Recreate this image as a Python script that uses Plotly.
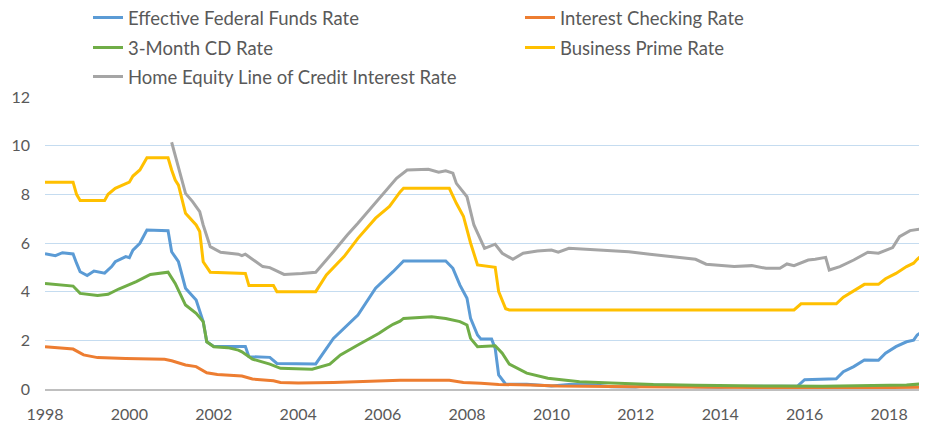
import plotly.graph_objects as go

# Effective Federal Funds Rate
fed_dates = ["1998-01", "1998-04", "1998-06", "1998-09", "1998-10", "1998-11", "1999-01", "1999-03",
             "1999-06", "1999-08", "1999-09", "1999-12", "2000-01", "2000-02", "2000-04", "2000-06",
             "2000-12", "2001-01", "2001-03", "2001-05", "2001-08", "2001-10", "2001-11", "2002-01",
             "2002-10", "2002-11", "2003-05", "2003-07", "2004-06", "2004-11", "2005-06", "2005-11",
             "2006-04", "2006-07", "2007-07", "2007-09", "2007-11", "2008-01", "2008-02", "2008-04",
             "2008-05", "2008-08", "2008-09", "2008-10", "2008-12", "2009-06", "2010-01", "2010-06",
             "2011-01", "2011-06", "2012-01", "2012-06", "2013-01", "2013-06", "2014-01", "2014-06",
             "2015-01", "2015-06", "2015-11", "2016-01", "2016-10", "2016-12", "2017-03", "2017-06",
             "2017-10", "2017-12", "2018-03", "2018-06", "2018-08", "2018-09", "2018-11", "2019-01"]
fed_rate = [5.56, 5.48, 5.6, 5.55, 5.17, 4.82, 4.66, 4.85,
            4.76, 5.03, 5.23, 5.44, 5.4, 5.71, 5.99, 6.53,
            6.5, 5.64, 5.23, 4.14, 3.66, 2.77, 1.94, 1.75,
            1.75, 1.33, 1.3, 1.05, 1.03, 2.08, 3.04, 4.14,
            4.82, 5.26, 5.26, 4.96, 4.27, 3.73, 2.9, 2.22,
            2.05, 2.05, 1.67, 0.58, 0.2, 0.2, 0.12, 0.18,
            0.17, 0.09, 0.08, 0.16, 0.14, 0.09, 0.07, 0.1,
            0.11, 0.13, 0.12, 0.38, 0.42, 0.71, 0.92, 1.19,
            1.18, 1.47, 1.74, 1.94, 2.01, 2.22, 2.42, 2.45]

# Interest Checking Rate
chk_dates = ["1998-01", "1998-09", "1998-12", "1999-04", "1999-12", "2000-11", "2001-01", "2001-05",
             "2001-08", "2001-11", "2002-02", "2002-08", "2002-09", "2002-12", "2003-06", "2003-08",
             "2004-01", "2004-11", "2005-11", "2006-06", "2007-08", "2007-12", "2008-05", "2008-10",
             "2009-07", "2010-03", "2012-01", "2014-01", "2016-01", "2018-01", "2019-01"]
chk_rate = [1.74, 1.64, 1.4, 1.29, 1.25, 1.22, 1.16, 0.99,
            0.92, 0.67, 0.6, 0.55, 0.53, 0.41, 0.34, 0.27,
            0.25, 0.27, 0.34, 0.36, 0.36, 0.27, 0.24, 0.19,
            0.16, 0.12, 0.09, 0.06, 0.05, 0.06, 0.08]

# 3-Month CD Rate
cd_dates = ["1998-01", "1998-09", "1998-11", "1999-04", "1999-07", "1999-10", "2000-03", "2000-07",
            "2000-12", "2001-02", "2001-05", "2001-08", "2001-10", "2001-11", "2002-01", "2002-05",
            "2002-08", "2002-09", "2002-12", "2003-05", "2003-08", "2004-05", "2004-10", "2005-01",
            "2005-06", "2005-10", "2005-12", "2006-02", "2006-04", "2006-06", "2006-07", "2007-03",
            "2007-07", "2007-11", "2008-01", "2008-02", "2008-04", "2008-09", "2008-11", "2009-01",
            "2009-06", "2009-12", "2010-09", "2011-06", "2012-06", "2013-06", "2014-06", "2015-06",
            "2016-06", "2017-06", "2018-06", "2019-01"]
cd_rate = [4.34, 4.23, 3.93, 3.84, 3.89, 4.11, 4.41, 4.71,
           4.8, 4.34, 3.45, 3.11, 2.77, 1.94, 1.74, 1.7,
           1.6, 1.53, 1.23, 1.02, 0.85, 0.81, 1.02, 1.4,
           1.81, 2.11, 2.29, 2.49, 2.66, 2.79, 2.9, 2.97,
           2.9, 2.77, 2.63, 2.08, 1.74, 1.78, 1.47, 1.02,
           0.65, 0.44, 0.3, 0.25, 0.18, 0.15, 0.12, 0.12,
           0.11, 0.12, 0.16, 0.24]

# Business Prime Rate
prime_dates = ["1998-01", "1998-09", "1998-10", "1998-11", "1999-06", "1999-07", "1999-09", "1999-11",
               "2000-01", "2000-02", "2000-04", "2000-06", "2000-12", "2001-01", "2001-02", "2001-03",
               "2001-05", "2001-08", "2001-09", "2001-10", "2001-12", "2002-10", "2002-11", "2003-06",
               "2003-07", "2004-06", "2004-09", "2005-02", "2005-06", "2005-11", "2006-03", "2006-06",
               "2006-07", "2007-08", "2007-10", "2007-12", "2008-02", "2008-04", "2008-09", "2008-10",
               "2008-12", "2009-01", "2015-10", "2015-12", "2016-10", "2016-12", "2017-03", "2017-06",
               "2017-10", "2017-12", "2018-03", "2018-06", "2018-08", "2018-09", "2018-11", "2019-01"]
prime_rate = [8.5, 8.5, 8.0, 7.75, 7.75, 8.0, 8.25, 8.37,
              8.5, 8.75, 9.0, 9.5, 9.5, 9.0, 8.59, 8.38,
              7.22, 6.74, 6.47, 5.23, 4.8, 4.75, 4.25, 4.25,
              4.0, 4.0, 4.69, 5.44, 6.19, 7.02, 7.5, 8.1,
              8.25, 8.25, 7.63, 7.1, 6.0, 5.1, 5.0, 4.0,
              3.3, 3.25, 3.25, 3.5, 3.5, 3.77, 4.04, 4.3,
              4.3, 4.53, 4.75, 5.03, 5.17, 5.33, 5.58, 5.6]

# Home Equity Line of Credit Interest Rate
heloc_dates = ["2001-01", "2001-03", "2001-05", "2001-07", "2001-09", "2001-10", "2001-12", "2002-03",
               "2002-08", "2002-09", "2002-10", "2003-01", "2003-03", "2003-05", "2003-09", "2004-02",
               "2004-06", "2004-11", "2005-03", "2005-06", "2005-10", "2006-02", "2006-05", "2006-08",
               "2007-02", "2007-05", "2007-07", "2007-09", "2007-10", "2008-01", "2008-03", "2008-06",
               "2008-09", "2008-11", "2009-02", "2009-05", "2009-09", "2010-01", "2010-03", "2010-06",
               "2010-09", "2011-05", "2011-11", "2012-05", "2012-12", "2013-06", "2013-09", "2014-05",
               "2014-10", "2015-02", "2015-06", "2015-08", "2015-10", "2016-02", "2016-04", "2016-07",
               "2016-08", "2016-11", "2017-03", "2017-07", "2017-10", "2018-02", "2018-04", "2018-07",
               "2018-10", "2018-11", "2019-01"]
heloc_rate = [10.14, 9.14, 8.04, 7.7, 7.29, 6.74, 5.85, 5.62,
              5.54, 5.48, 5.54, 5.23, 5.03, 4.99, 4.71, 4.75,
              4.8, 5.64, 6.33, 6.81, 7.49, 8.2, 8.66, 9.0,
              9.03, 8.91, 8.97, 8.87, 8.45, 7.9, 6.74, 5.78,
              5.95, 5.58, 5.33, 5.58, 5.67, 5.71, 5.62, 5.78,
              5.75, 5.69, 5.64, 5.54, 5.44, 5.33, 5.13, 5.03,
              5.07, 4.96, 4.96, 5.14, 5.07, 5.3, 5.33, 5.41,
              4.89, 5.03, 5.3, 5.62, 5.58, 5.81, 6.26, 6.51,
              6.58, 6.72, 6.8]

# name, dates, values, colour, legend id, legend column x, legend row y (px)
series = [
    ("Effective Federal Funds Rate", fed_dates, fed_rate, "#5B9BD5", "legend", 80, 10),
    ("Interest Checking Rate", chk_dates, chk_rate, "#ED7D31", "legend2", 512, 10),
    ("3-Month CD Rate", cd_dates, cd_rate, "#70AD47", "legend3", 80, 40),
    ("Business Prime Rate", prime_dates, prime_rate, "#FFC000", "legend4", 512, 40),
    ("Home Equity Line of Credit Interest Rate", heloc_dates, heloc_rate, "#A5A5A5", "legend5", 80, 69),
]

# the page body adds an 8px margin, so the figure is 8px smaller than the window
W, H = 919, 418
font = dict(family="Lato", size=18.5, color="#595959")
tickfont = dict(family="Lato", size=16, color="#595959")

fig = go.Figure()
legends = {}
for name, dates, vals, color, leg, lx, ly in series:
    fig.add_trace(go.Scatter(x=dates, y=vals, name=name, mode="lines",
                             line=dict(color=color, width=3), legend=leg))
    legends[leg] = dict(orientation="h", xref="container", yref="container",
                        x=lx / W, y=1 - ly / H, xanchor="left", yanchor="middle",
                        font=font, bgcolor="rgba(0,0,0,0)")

fig.update_layout(
    width=W, height=H,
    showlegend=True,
    margin=dict(l=37, r=0, t=89, b=37, autoexpand=False),
    plot_bgcolor="white", paper_bgcolor="white",
    font=font,
    xaxis=dict(type="date", range=["1998-01-01", "2018-11-25"], tick0="1998-01-01",
               dtick="M24", tickformat="%Y", showgrid=False, showline=True,
               linecolor="#BFBFBF", linewidth=2, ticks="", ticklabelstandoff=10,
               tickfont=tickfont),
    yaxis=dict(range=[0, 12], dtick=2, showgrid=True, gridcolor="#C5DCF0", gridwidth=1,
               zeroline=False, showline=False, ticklabelstandoff=14,
               tickfont=tickfont),
    **legends,
)

fig.write_html("out.html")
